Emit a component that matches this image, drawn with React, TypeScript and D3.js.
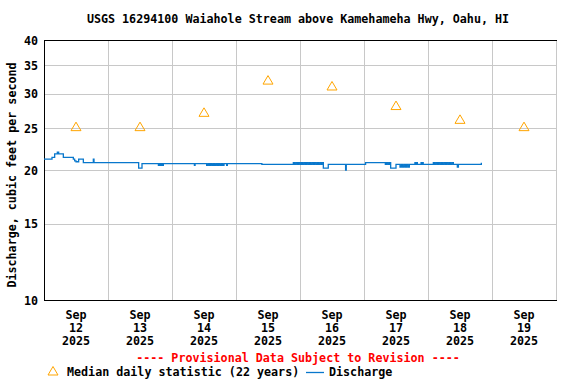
import React from "react";
import * as d3 from "d3";

const title = "USGS 16294100 Waiahole Stream above Kamehameha Hwy, Oahu, HI";
const yAxisTitle = "Discharge, cubic feet per second";
const yTicks = [10, 15, 20, 25, 30, 35, 40];
const dayLabels = ["12", "13", "14", "15", "16", "17", "18", "19"];
const monthLabel = "Sep";
const yearLabel = "2025";
const medianCfs = [25.2, 25.2, 27.2, 32.3, 31.3, 28.2, 26.2, 25.2];
const provisional = "---- Provisional Data Subject to Revision ----";
const legendMedian = "Median daily statistic (22 years)";
const legendDischarge = "Discharge";

// [hours since 2025-09-12 00:00, discharge cfs]
const discharge: [number, number][] = [
  [0, 21.2], [3, 21.4], [4, 21.8], [5, 22.0], [5.5, 21.8], [7.25, 21.4],
  [11, 21.2], [11.5, 21.0], [12, 20.9], [13, 21.2], [14.75, 20.8],
  [18.5, 21.2], [18.75, 20.8],
  [35.5, 20.2], [36.75, 20.7],
  [42.9, 20.5], [43.25, 20.7], [43.5, 20.5], [43.75, 20.7], [44.0, 20.5],
  [44.25, 20.7], [44.5, 20.5], [44.75, 20.7],
  [56.4, 20.5], [56.65, 20.7],
  [61.0, 20.5], [61.5, 20.7], [62.0, 20.5], [62.5, 20.7], [63.0, 20.5],
  [63.5, 20.7], [64.0, 20.5], [64.5, 20.7], [65.0, 20.5], [65.5, 20.7],
  [66.0, 20.5], [66.5, 20.7], [67.0, 20.5], [67.5, 20.7],
  [68.5, 20.5], [68.75, 20.7],
  [81.7, 20.6],
  [93.5, 20.8], [94.0, 20.6], [94.5, 20.8], [95.0, 20.6], [95.5, 20.8],
  [96.0, 20.6], [96.5, 20.8], [97.0, 20.6], [97.5, 20.8], [98.0, 20.6],
  [98.5, 20.8], [99.0, 20.6], [99.5, 20.8], [100.0, 20.6], [100.5, 20.8],
  [101.0, 20.6], [101.5, 20.8], [102.0, 20.6], [102.5, 20.8], [103.0, 20.6],
  [103.5, 20.8], [104.0, 20.6], [104.25, 20.8],
  [104.75, 20.2], [106.6, 20.6],
  [113.1, 20.0], [113.35, 20.6],
  [120.6, 20.8],
  [128.0, 20.6], [128.5, 20.8], [129.0, 20.6], [129.5, 20.8],
  [130.0, 20.2], [132.0, 20.6],
  [133.5, 20.3], [134.0, 20.6], [134.5, 20.3], [135.0, 20.6], [135.5, 20.3],
  [136.0, 20.6], [136.5, 20.3], [137.0, 20.6],
  [139.1, 20.8], [139.4, 20.6], [139.7, 20.8], [140.0, 20.6],
  [141.4, 20.8], [141.7, 20.6], [142.0, 20.8], [142.2, 20.6],
  [146.0, 20.8], [146.5, 20.6], [147.0, 20.8], [147.5, 20.6], [148.0, 20.8],
  [148.5, 20.6], [149.0, 20.8], [149.5, 20.6], [150.0, 20.8], [150.5, 20.6],
  [151.0, 20.8], [151.5, 20.6], [152.0, 20.8], [152.5, 20.6], [153.0, 20.8],
  [153.5, 20.6],
  [155.0, 20.3], [155.4, 20.6],
  [164.0, 20.8],
];

const W = 576;
const H = 384;
const FONT = "'DejaVu Sans Mono', monospace";
const start = new Date(2025, 8, 12);
const end = new Date(2025, 8, 20);

export default function App() {
  const x = d3.scaleTime().domain([start, end]).range([44, 556]);
  const y = d3.scaleLog().domain([10, 40]).range([300, 40]);
  const days = d3.timeDay.range(start, end);
  const crisp = (v: number) => Math.round(v) + 0.5;

  const line = d3
    .line<[number, number]>()
    .x((d) => x(new Date(start.getTime() + d[0] * 3600000)))
    .y((d) => y(d[1]))
    .curve(d3.curveStepAfter);

  const tri = (cx: number, cy: number) =>
    `M${cx},${cy - 4.5}L${cx + 5},${cy + 4}L${cx - 5},${cy + 4}Z`;

  const lineColor = "#0877cc";
  const triColor = "#ffa500";

  return (
    <svg
      width={W}
      height={H}
      style={{ position: "absolute", left: 0, top: 0, background: "#fff" }}
      fontFamily={FONT}
      fontWeight="bold"
      fontSize={11.7}
    >
      <rect x={0} y={0} width={W} height={H} fill="#fff" />
      <text x={298} y={23} textAnchor="middle" fill="#000">
        {title}
      </text>

      {/* horizontal gridlines */}
      {yTicks.slice(1, -1).map((t) => (
        <line key={"h" + t} x1={44} x2={556} y1={crisp(y(t))} y2={crisp(y(t))} stroke="#c8c8c8" strokeWidth={1} />
      ))}
      {/* vertical gridlines */}
      {days.slice(1).map((d, i) => (
        <line key={"v" + i} x1={crisp(x(d))} x2={crisp(x(d))} y1={40} y2={300} stroke="#c8c8c8" strokeWidth={1} />
      ))}
      <line x1={crisp(556)} x2={crisp(556)} y1={40} y2={300} stroke="#c8c8c8" />

      {/* frame */}
      <line x1={44} x2={557} y1={crisp(40)} y2={crisp(40)} stroke="#000" />
      <line x1={44} x2={557} y1={crisp(300)} y2={crisp(300)} stroke="#000" />
      <line x1={crisp(44)} x2={crisp(44)} y1={40} y2={301} stroke="#000" />

      {/* y tick labels */}
      {yTicks.map((t) => (
        <text key={"yl" + t} x={38} y={y(t) + 4.5} textAnchor="end" fill="#000">
          {t}
        </text>
      ))}
      <text
        transform={`translate(16,175) rotate(-90)`}
        textAnchor="middle"
        fill="#000"
      >
        {yAxisTitle}
      </text>

      {/* x labels */}
      {days.map((d, i) => {
        const cx = x(d3.timeHour.offset(d, 12));
        return (
          <g key={"xl" + i}>
            <text x={cx} y={318.5} textAnchor="middle" fill="#000">{monthLabel}</text>
            <text x={cx} y={331.5} textAnchor="middle" fill="#000">{dayLabels[i]}</text>
            <text x={cx} y={344.5} textAnchor="middle" fill="#000">{yearLabel}</text>
          </g>
        );
      })}

      {/* discharge */}
      <path d={line(discharge) || ""} fill="none" stroke={lineColor} strokeWidth={1.3} />

      {/* medians */}
      {days.map((d, i) => (
        <path
          key={"m" + i}
          d={tri(x(d3.timeHour.offset(d, 12)), y(medianCfs[i]))}
          fill="none"
          stroke={triColor}
          strokeWidth={1}
        />
      ))}

      {/* provisional */}
      <text x={298} y={362} textAnchor="middle" fill="#ff0000">
        {provisional}
      </text>

      {/* legend */}
      <path d={tri(53, 371)} fill="none" stroke={triColor} strokeWidth={1} />
      <text x={67} y={376} fill="#000">{legendMedian}</text>
      <line x1={306} x2={324} y1={372.5} y2={372.5} stroke={lineColor} strokeWidth={1.3} />
      <text x={329} y={376} fill="#000">{legendDischarge}</text>
    </svg>
  );
}
